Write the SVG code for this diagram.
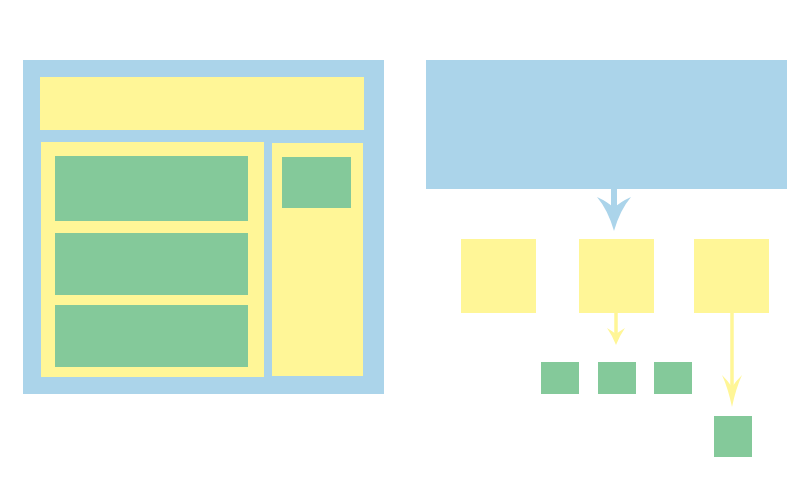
<svg xmlns="http://www.w3.org/2000/svg" width="800" height="500" viewBox="0 0 800 500">
<style>
.b{fill:#abd4ea}.y{fill:#fff697}.g{fill:#84c99a}
.ls{stroke:#abd4ea;stroke-width:6;fill:none}
.ys{stroke:#fff697;stroke-width:3.5;fill:none}
</style>
<rect width="800" height="500" fill="#fff"/>
<g id="layout">
<rect class="b" x="23" y="60" width="361" height="334"/>
<rect class="y" x="40" y="77" width="324" height="53"/>
<rect class="y" x="41" y="142" width="223" height="235"/>
<rect class="g" x="55" y="156" width="193" height="65"/>
<rect class="g" x="55" y="233" width="193" height="62"/>
<rect class="g" x="55" y="305" width="193" height="62"/>
<rect class="y" x="272" y="143" width="91" height="233"/>
<rect class="g" x="282" y="157" width="69" height="51"/>
</g>
<g id="root"><rect class="b" x="426" y="60" width="361" height="129"/></g>
<g id="c1"><rect class="y" x="461" y="239" width="75" height="74"/></g>
<g id="c2"><rect class="y" x="579" y="239" width="75" height="74"/></g>
<g id="c3"><rect class="y" x="694" y="239" width="75" height="74"/></g>
<g id="l1"><rect class="g" x="541" y="362" width="38" height="32"/></g>
<g id="l2"><rect class="g" x="598" y="362" width="38" height="32"/></g>
<g id="l3"><rect class="g" x="654" y="362" width="38" height="32"/></g>
<g id="l4"><rect class="g" x="714" y="416" width="38" height="41"/></g>
<g id="connectors">
<line class="ls" x1="614" y1="189" x2="614" y2="212"/>
<path fill="#abd4ea" d="M614,231 Q608,210 597,197 Q608,202 614,208 Q620,202 631,197 Q620,210 614,231Z"/>
<line class="ys" x1="616" y1="313" x2="616" y2="336"/>
<path fill="#fff697" d="M616,345 Q612,335 607,328 Q612,331 616,334 Q620,331 625,328 Q620,335 616,345Z"/>
<line class="ys" x1="732" y1="313" x2="732" y2="392"/>
<path fill="#fff697" d="M732,407 Q728,388 722,375 Q728,381 732,387 Q736,381 742,375 Q736,388 732,407Z"/>
</g>
</svg>
